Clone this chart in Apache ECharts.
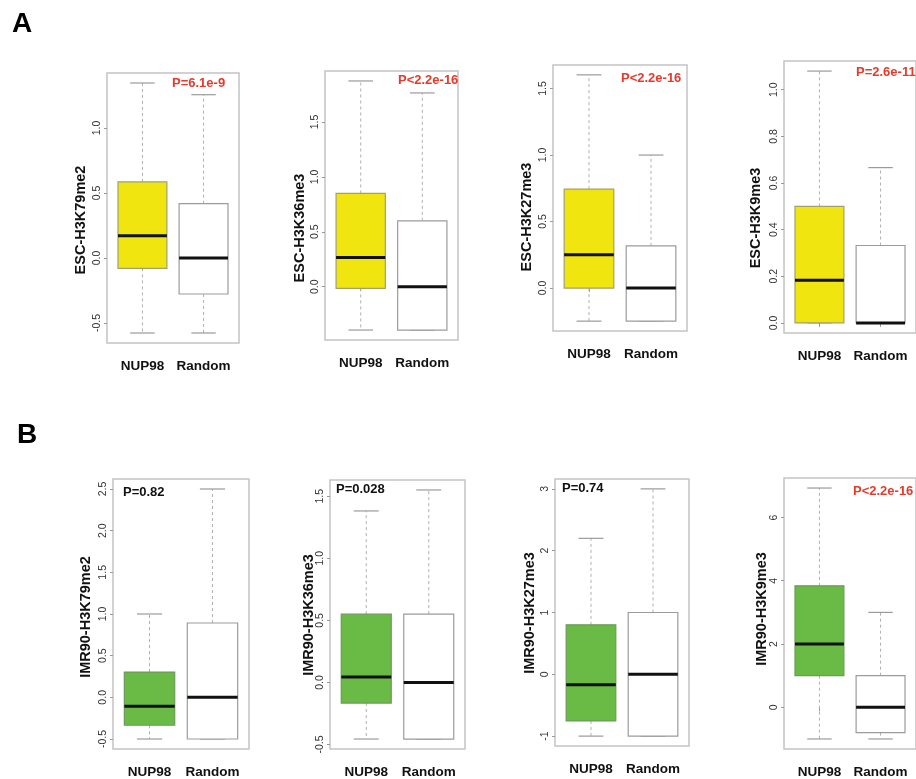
<!DOCTYPE html>
<html>
<head>
<meta charset="utf-8">
<script src="https://cdn.jsdelivr.net/npm/echarts@6/dist/echarts.min.js"></script>
<style>
html,body{margin:0;padding:0;background:#fff;}
#chart{width:916px;height:779px;}
</style>
</head>
<body>
<div id="chart"></div>
<script>
// ---------------- DATA ----------------
const categories = ['NUP98', 'Random'];
const panelTitles = ['ESC-H3K79me2', 'ESC-H3K36me3', 'ESC-H3K27me3', 'ESC-H3K9me3',
                     'IMR90-H3K79me2', 'IMR90-H3K36me3', 'IMR90-H3K27me3', 'IMR90-H3K9me3'];
const pValueTexts = ['P=6.1e-9', 'P<2.2e-16', 'P<2.2e-16', 'P=2.6e-11',
                     'P=0.82', 'P=0.028', 'P=0.74', 'P<2.2e-16'];
const pSignificant = [true, true, true, true, false, false, false, true];
// [min, Q1, median, Q3, max]
const nup98Stats = [
  [-0.577, -0.08, 0.172, 0.585, 1.346],
  [-0.394, -0.015, 0.267, 0.849, 1.873],
  [-0.249, 0.0, 0.251, 0.744, 1.603],
  [0.0, 0.0, 0.183, 0.5, 1.08],
  [-0.5, -0.335, -0.108, 0.303, 1.0],
  [-0.456, -0.166, 0.043, 0.55, 1.381],
  [-1.0, -0.755, -0.17, 0.80, 2.2],
  [-1.0, 1.0, 2.0, 3.84, 6.93]
];
const randomStats = [
  [-0.577, -0.277, 0.0, 0.418, 1.256],
  [-0.394, -0.394, 0.0, 0.60, 1.764],
  [-0.249, -0.249, 0.0, 0.317, 1.0],
  [0.0, 0.0, 0.0, 0.332, 0.666],
  [-0.5, -0.5, 0.0, 0.892, 2.5],
  [-0.456, -0.456, 0.0, 0.55, 1.55],
  [-1.0, -1.0, 0.0, 1.0, 3.0],
  [-1.0, -0.8, 0.0, 1.0, 3.0]
];
const yTickLabels = [
  ['-0.5', '0.0', '0.5', '1.0'],
  ['0.0', '0.5', '1.0', '1.5'],
  ['0.0', '0.5', '1.0', '1.5'],
  ['0.0', '0.2', '0.4', '0.6', '0.8', '1.0'],
  ['-0.5', '0.0', '0.5', '1.0', '1.5', '2.0', '2.5'],
  ['-0.5', '0.0', '0.5', '1.0', '1.5'],
  ['-1', '0', '1', '2', '3'],
  ['0', '2', '4', '6']
];

// ---------------- LAYOUT / STYLE ----------------
const FONT = '"Liberation Sans", Arial, Helvetica, sans-serif';
const frames = [
  {l: 107, t: 73, w: 132, h: 270},
  {l: 325, t: 71, w: 133, h: 269},
  {l: 553, t: 65, w: 134, h: 266},
  {l: 784, t: 61, w: 134, h: 272},
  {l: 113, t: 479, w: 136, h: 274},
  {l: 330, t: 480, w: 135, h: 273},
  {l: 555, t: 479, w: 134, h: 267},
  {l: 784, t: 478, w: 135, h: 271}
];
const titlePos = [[81, 220], [300, 228], [526.5, 217], [756, 218],
                  [86, 617], [309, 615], [530, 613], [762, 609]];
const pPos = [[172, 83], [398, 80], [621, 78], [856, 72],
              [123, 492], [336, 489], [562, 488], [853, 491]];
const YELLOW = '#f1e50f';
const GREEN = '#69bb45';
const RED = '#e8392a';

const grids = [], xAxes = [], yAxes = [], series = [], graphics = [];

frames.forEach((f, i) => {
  grids.push({left: f.l, top: f.t, width: f.w, height: f.h, show: true,
    borderColor: '#c4c4c4', borderWidth: 1.5, backgroundColor: 'transparent'});
  const all = nup98Stats[i].concat(randomStats[i]);
  const dMin = Math.min(...all), dMax = Math.max(...all);
  const pad = (dMax - dMin) * 0.04;
  const tickVals = yTickLabels[i].map(parseFloat);
  xAxes.push({
    type: 'value', gridIndex: i, min: 0.42, max: 2.58,
    axisLine: {show: false}, splitLine: {show: false},
    axisTick: {show: true, customValues: [1, 2], length: 4, lineStyle: {color: '#999', width: 1}},
    axisLabel: {show: true, customValues: [1, 2], margin: 16,
      formatter: v => categories[Math.round(v) - 1],
      fontFamily: FONT, fontWeight: 'bold', fontSize: 13.5, color: '#111'}
  });
  yAxes.push({
    type: 'value', gridIndex: i, min: dMin - pad, max: dMax + pad,
    axisLine: {show: false}, splitLine: {show: false},
    axisTick: {show: true, customValues: tickVals, length: 3, lineStyle: {color: '#999', width: 1}},
    axisLabel: {show: true, customValues: tickVals, rotate: 90, margin: 4,
      formatter: v => { const k = tickVals.findIndex(t => Math.abs(t - v) < 1e-9); return k >= 0 ? yTickLabels[i][k] : ''; },
      fontFamily: FONT, fontSize: 10.5, color: '#333'}
  });
  const fill = i < 4 ? YELLOW : GREEN;
  const boxBorder = i < 4 ? '#a3a070' : '#6c9a58';
  series.push({
    type: 'custom', xAxisIndex: i, yAxisIndex: i, clip: false,
    encode: {x: 0, y: [1, 2, 3, 4, 5]},
    data: [[1].concat(nup98Stats[i]), [2].concat(randomStats[i])],
    renderItem: function (params, api) {
      const x = api.value(0);
      const mn = api.value(1), q1 = api.value(2), md = api.value(3), q3 = api.value(4), mx = api.value(5);
      const half = api.size([0.4, 0])[0];
      const capHalf = half / 2;
      const pMin = api.coord([x, mn]), pQ1 = api.coord([x, q1]), pMd = api.coord([x, md]),
            pQ3 = api.coord([x, q3]), pMax = api.coord([x, mx]);
      const cx = pMd[0];
      const isN = params.dataIndex === 0;
      const wStyle = {stroke: '#b0b0b0', lineWidth: 1, lineDash: [3, 3]};
      const cStyle = {stroke: '#9a9a9a', lineWidth: 1.2};
      return {
        type: 'group',
        children: [
          {type: 'line', shape: {x1: cx, y1: pQ3[1], x2: cx, y2: pMax[1]}, style: wStyle},
          {type: 'line', shape: {x1: cx, y1: pQ1[1], x2: cx, y2: pMin[1]}, style: wStyle},
          {type: 'line', shape: {x1: cx - capHalf, y1: pMax[1], x2: cx + capHalf, y2: pMax[1]}, style: cStyle},
          {type: 'line', shape: {x1: cx - capHalf, y1: pMin[1], x2: cx + capHalf, y2: pMin[1]}, style: cStyle},
          {type: 'rect', shape: {x: cx - half, y: pQ3[1], width: half * 2, height: pQ1[1] - pQ3[1]},
            style: {fill: isN ? fill : '#ffffff', stroke: isN ? boxBorder : '#9c9c9c', lineWidth: 1.2}},
          {type: 'line', shape: {x1: cx - half, y1: pMd[1], x2: cx + half, y2: pMd[1]},
            style: {stroke: '#111', lineWidth: 3}}
        ]
      };
    }
  });
  graphics.push({
    type: 'text', x: titlePos[i][0], y: titlePos[i][1], rotation: Math.PI / 2,
    style: {text: panelTitles[i], fontFamily: FONT, fontWeight: 'bold', fontSize: 14.5,
      fill: '#111', align: 'center', verticalAlign: 'middle'}
  });
  graphics.push({
    type: 'text', x: pPos[i][0], y: pPos[i][1],
    style: {text: pValueTexts[i], fontFamily: FONT, fontWeight: 'bold', fontSize: 13,
      fill: pSignificant[i] ? RED : '#111', align: 'left', verticalAlign: 'middle'}
  });
});

graphics.push({type: 'text', x: 12, y: 24, style: {text: 'A', fontFamily: FONT, fontWeight: 'bold', fontSize: 28, fill: '#000', align: 'left', verticalAlign: 'middle'}});
graphics.push({type: 'text', x: 17, y: 435, style: {text: 'B', fontFamily: FONT, fontWeight: 'bold', fontSize: 28, fill: '#000', align: 'left', verticalAlign: 'middle'}});

const chart = echarts.init(document.getElementById('chart'), null, {renderer: 'canvas'});
chart.setOption({
  animation: false,
  backgroundColor: '#ffffff',
  grid: grids, xAxis: xAxes, yAxis: yAxes, series: series, graphic: graphics
});
</script>
</body>
</html>
